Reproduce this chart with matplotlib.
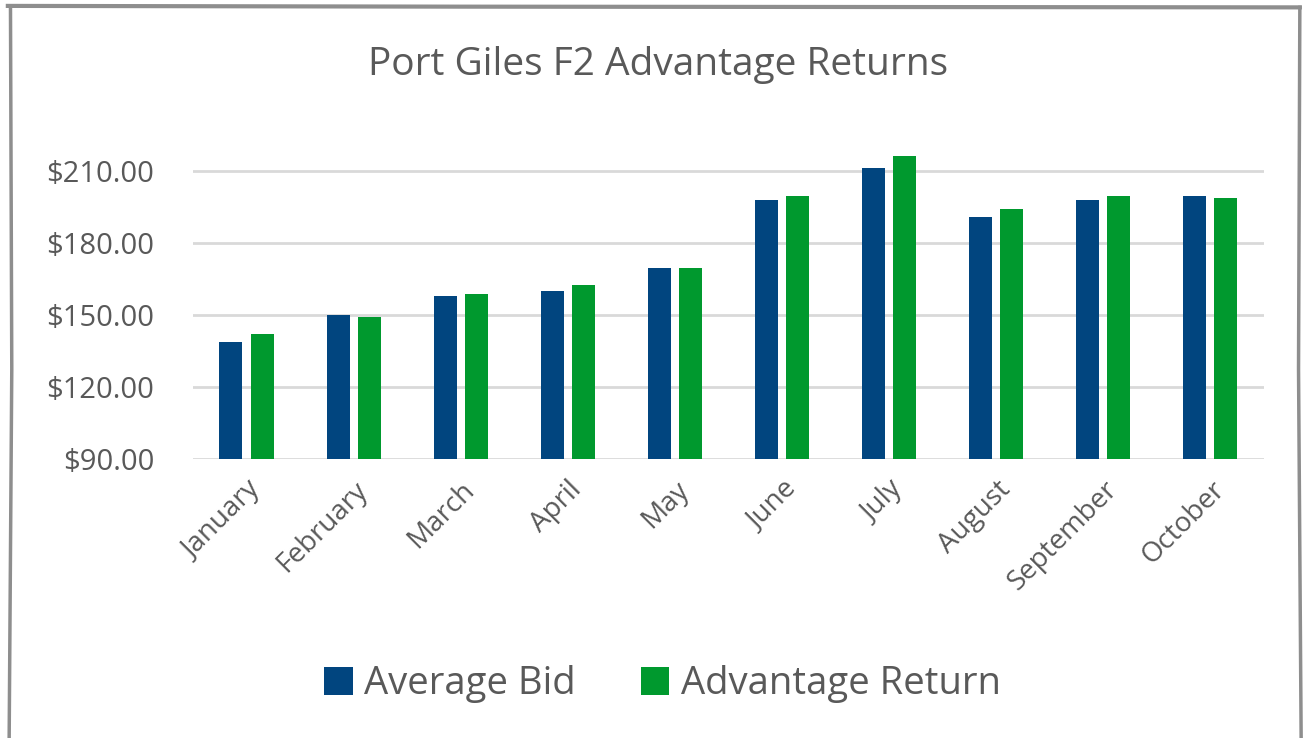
import matplotlib
matplotlib.use("Agg")
import matplotlib.pyplot as plt
import numpy as np
from matplotlib.lines import Line2D
from matplotlib.patches import Patch

months = ["January", "February", "March", "April", "May", "June",
          "July", "August", "September", "October"]
average_bid = [138.9, 150.0, 157.8, 160.1, 169.6, 198.0, 211.2, 190.8, 198.0, 199.6]
advantage_return = [142.0, 149.0, 158.5, 162.4, 169.6, 199.6, 216.2, 193.9, 199.6, 198.8]
yticks = [90, 120, 150, 180, 210]

BLUE = "#01457F"
GREEN = "#00992E"
TEXT = "#595959"
GRID = "#D9D9D9"
FONT = ["Open Sans", "DejaVu Sans"]
plt.rcParams["font.family"] = FONT

fig = plt.figure(figsize=(13.09, 7.38), dpi=100)
ax = fig.add_axes([0.1474, 0.378, 0.8182, 0.4297])

x = np.arange(len(months))
w = 0.215
off = 0.145
ax.bar(x - off, average_bid, width=w, color=BLUE, zorder=3)
ax.bar(x + off, advantage_return, width=w, color=GREEN, zorder=3)

ax.set_xlim(-0.5, len(months) - 0.5)
ax.set_ylim(90, 222)
ax.set_yticks(yticks)
ax.set_yticklabels([f"${v:.2f}" for v in yticks], color=TEXT, fontsize=21)
ax.set_xticks(x)
ax.set_xticklabels(months, rotation=45, ha="right", rotation_mode="anchor",
                   color=TEXT, fontsize=20)
ax.tick_params(axis="both", length=0)
ax.tick_params(axis="y", pad=28)
ax.tick_params(axis="x", pad=12)
for s in ax.spines.values():
    s.set_visible(False)
ax.grid(axis="y", color=GRID, linewidth=2, zorder=0)
ax.set_axisbelow(True)

fig.text(0.5025, 0.912, "Port Giles F2 Advantage Returns", ha="center", va="center",
         fontsize=28, color=TEXT)

handles = [Patch(facecolor=BLUE), Patch(facecolor=GREEN)]
fig.legend(handles, ["Average Bid", "Advantage Return"], loc="center",
           bbox_to_anchor=(0.506, 0.073), ncol=2, frameon=False,
           fontsize=27.5, labelcolor=TEXT, handlelength=0.75, handleheight=0.75,
           handletextpad=0.3, columnspacing=1.7)

# sketchy frame
frame_col = "#8E8E8E"
fig.add_artist(Line2D([0.006, 0.35, 0.993], [0.992, 0.991, 0.990], color=frame_col, lw=3,
                      transform=fig.transFigure))
fig.add_artist(Line2D([0.008, 0.009, 0.007], [0.992, 0.5, 0.0], color=frame_col, lw=2.5,
                      transform=fig.transFigure))
fig.add_artist(Line2D([0.993, 0.992, 0.994], [0.990, 0.5, 0.0], color=frame_col, lw=2.5,
                      transform=fig.transFigure))

fig.savefig("out.png", dpi=100)
